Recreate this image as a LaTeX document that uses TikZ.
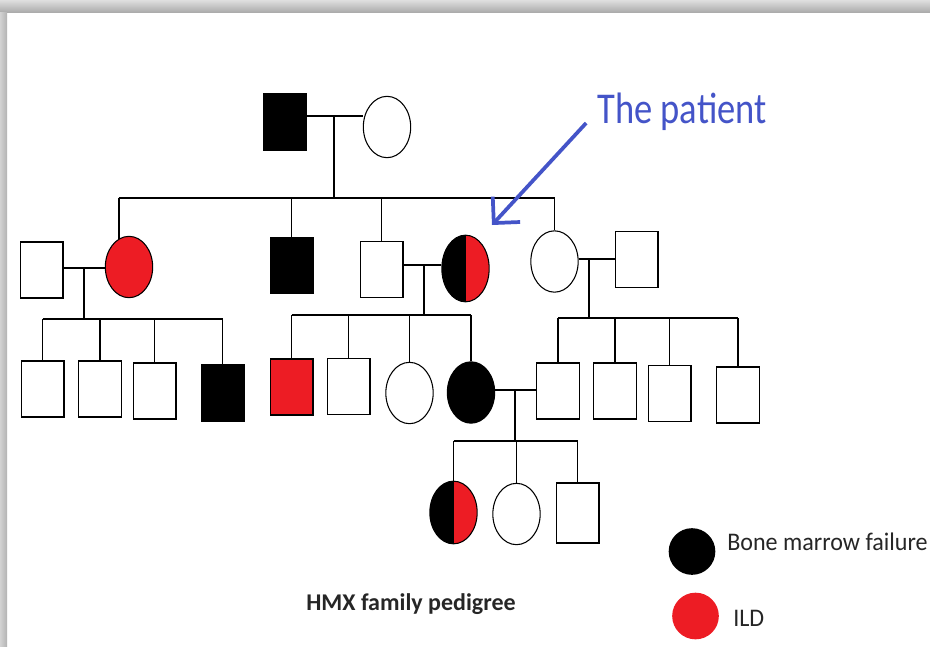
\documentclass[tikz,border=0pt]{standalone}
\usepackage{fontspec}
\setmainfont{Carlito}
\newfontfamily\patientfont[FakeStretch=0.83]{Carlito}
\newfontfamily\legendfont[FakeStretch=0.95]{Carlito}
\usetikzlibrary{positioning}
\usetikzlibrary{shapes.geometric}
\usetikzlibrary{arrows.meta}
\definecolor{ildred}{RGB}{237,28,36}
\definecolor{pointerblue}{RGB}{68,84,200}
\tikzset{
    % Plain male symbol
    male/.style={draw, rectangle, line width=1pt, inner sep=0,
        minimum width=32pt, minimum height=42pt, fill=white},
    % Plain female symbol
    female/.style={draw, ellipse, line width=0.8pt, inner sep=0,
        minimum width=35.5pt, minimum height=46pt, fill=white},
%
    % Fills for the two conditions
    bmf fill/.style={fill=black},
    ild fill/.style={fill=ildred},
    % Left half black, right half red: both conditions
    both fill/.style={path picture={
        \fill[black] (path picture bounding box.south west)
            rectangle (path picture bounding box.north);
        \fill[ildred] (path picture bounding box.south)
            rectangle (path picture bounding box.north east);}},
%
    % Marriage, descent and sibship lines
    pedigree line/.style={line width=1.3pt},
    % Round keys of the legend
    key dot/.style={circle, inner sep=0, minimum size=35pt},
    % Legend and title texts
    key text/.style={anchor=base west, inner sep=0, text=black!85,
        font=\legendfont\fontsize{19}{22}\selectfont}}

\begin{document}
\begin{tikzpicture}[x=0.75pt, y=-0.75pt]
\useasboundingbox (0,0) rectangle (930,646);

% shadow of the frame
\shade[top color=gray!25, bottom color=gray!65] (0,0) rectangle (930,12);
\shade[left color=gray!35, right color=gray!60] (0,12) rectangle (7,646);

% generation I
\node[male, bmf fill] (grandfather) at (284.5,122) {};
\node[female] (grandmother) at (387,127) {};
\coordinate (union I) at (334,116);
\coordinate (sibs II) at (334,198);

% generation II
\node[male] (aunt spouse) at (41.5,270) {};
\node[female, ild fill] (aunt) at (129,267) {};
\node[male, bmf fill] (uncle) at (291.5,265.5) {};
\node[male] (son in law) at (381.5,269.5) {};
\node[female, both fill, minimum height=50pt] (patient) at (465.5,268.5) {};
\node[female] (aunt two) at (554.5,261.5) {};
\node[male] (aunt two spouse) at (636.5,259.5) {};
\coordinate (union A) at (84,268);
\coordinate (sibs A) at (84,319);
\coordinate (union B) at (424,265);
\coordinate (sibs B) at (424,315);
\coordinate (union C) at (589,259);
\coordinate (sibs C) at (589,318);

% generation III
\node[male] (cousin one) at (42.5,389) {};
\node[male] (cousin two) at (100,389) {};
\node[male] (cousin three) at (154.5,391) {};
\node[male, bmf fill] (cousin four) at (222.5,393) {};
\node[male, ild fill] (son) at (291.5,387) {};
\node[male] (son two) at (348.5,386.5) {};
\node[female] (daughter) at (409.5,393) {};
\node[female, bmf fill] (daughter two) at (471,392.5) {};
\node[male] (cousin five) at (558,391) {};
\node[male] (cousin six) at (615,391) {};
\node[male] (cousin seven) at (669.5,393.5) {};
\node[male] (cousin eight) at (738,395) {};
\coordinate (union D) at (515,390);
\coordinate (sibs D) at (515,441);

% generation IV
\node[female, both fill, minimum height=47pt] (grandchild one) at (453.5,512.5) {};
\node[female] (grandchild two) at (516.5,514) {};
\node[male, minimum height=45pt] (grandchild three) at (577.5,513) {};

% marriages and descent
\draw[pedigree line]
    (grandfather.east |- union I) -- (grandmother.west |- union I)
    (union I) -- (sibs II)
    (aunt spouse.east |- union A) -- (aunt.west |- union A)
    (union A) -- (sibs A)
    (son in law.east |- union B) -- (patient.west |- union B)
    (union B) -- (sibs B)
    (aunt two.east |- union C) -- (aunt two spouse.west |- union C)
    (union C) -- (sibs C)
    (daughter two.east |- union D) -- (cousin five.west |- union D)
    (union D) -- (sibs D);

% sibships
\draw[pedigree line]
    (aunt.110 |- sibs II) -- (aunt two.north |- sibs II)
    (cousin one.north |- sibs A) -- (cousin four.north |- sibs A)
    (son.north |- sibs B) -- (daughter two.north |- sibs B)
    (cousin five.north |- sibs C) -- (cousin eight.north |- sibs C)
    (grandchild one.north |- sibs D) -- (grandchild three.north |- sibs D);
\draw[pedigree line] (aunt.110 |- sibs II) -- (aunt.110);
\foreach \kid in {uncle, son in law, aunt two}
    \draw[pedigree line] (\kid.north |- sibs II) -- (\kid.north);
\foreach \kid in {cousin one, cousin two, cousin three, cousin four}
    \draw[pedigree line] (\kid.north |- sibs A) -- (\kid.north);
\foreach \kid in {son, son two, daughter, daughter two}
    \draw[pedigree line] (\kid.north |- sibs B) -- (\kid.north);
\foreach \kid in {cousin five, cousin six, cousin seven, cousin eight}
    \draw[pedigree line] (\kid.north |- sibs C) -- (\kid.north);
\foreach \kid in {grandchild one, grandchild two, grandchild three}
    \draw[pedigree line] (\kid.north |- sibs D) -- (\kid.north);

% proband pointer
\node[anchor=base west, inner sep=0, text=pointerblue,
    font=\patientfont\fontsize{33}{38}\selectfont]
    (patient label) at (597,123) {The patient};
\coordinate (pointer tip) at (492,225);
\draw[pointerblue, line width=2.8pt, shorten <=12pt,
    -{Straight Barb[length=14pt, width=28pt]}]
    (patient label.west) -- (pointer tip);

% title and legend
\node[key text, font=\bfseries\fontsize{18}{22}\selectfont] (title)
    at (306,610) {HMX family pedigree};
\node[key dot, fill=black] (bmf key) at (692,551.5) {};
\node[key dot, fill=ildred] (ild key) at (695.5,616) {};
\node[key text] (bmf label) at (727,550) {Bone marrow failure};
\node[key text] (ild label) at (733,626) {ILD};

\end{tikzpicture}
\end{document}
